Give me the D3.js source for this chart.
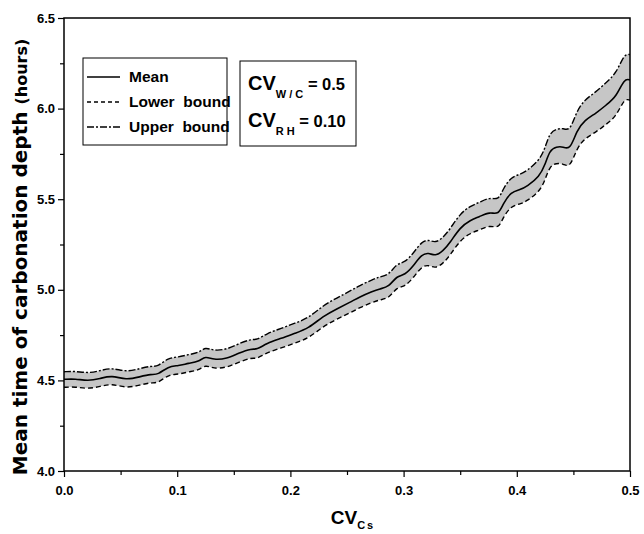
<!DOCTYPE html>
<html lang="en">
<head>
<meta charset="utf-8">
<title>Mean time of carbonation depth</title>
<script src="https://cdnjs.cloudflare.com/ajax/libs/d3/7.8.5/d3.min.js"></script>
<style>
  body { margin: 0; background: #fff; }
  .narrow { font-family: "Liberation Sans Narrow", "Arial Narrow", "Liberation Sans", Arial, sans-serif; font-weight: bold; font-stretch: condensed; }
</style>
</head>
<body>
<svg id="chart" width="644" height="534"></svg>
<script>
// CV of Cs (x)
const cvCs = [0.000, 0.010, 0.021, 0.032, 0.042, 0.055, 0.067, 0.077, 0.083, 0.092,
              0.101, 0.110, 0.119, 0.125, 0.132, 0.144, 0.154, 0.166, 0.170, 0.179,
              0.192, 0.204, 0.216, 0.229, 0.241, 0.253, 0.261, 0.272, 0.279, 0.287,
              0.294, 0.301, 0.309, 0.316, 0.322, 0.328, 0.335, 0.341, 0.350, 0.359,
              0.367, 0.376, 0.384, 0.388, 0.395, 0.403, 0.409, 0.420, 0.425, 0.429,
              0.435, 0.441, 0.447, 0.453, 0.460, 0.470, 0.479, 0.488, 0.495, 0.500];
const meanTime = [4.506, 4.509, 4.497, 4.510, 4.528, 4.502, 4.520, 4.535, 4.530, 4.578,
                  4.580, 4.595, 4.603, 4.635, 4.613, 4.620, 4.650, 4.677, 4.668, 4.705,
                  4.732, 4.760, 4.787, 4.855, 4.895, 4.932, 4.960, 4.990, 5.006, 5.015,
                  5.078, 5.080, 5.135, 5.195, 5.205, 5.185, 5.215, 5.260, 5.345, 5.385,
                  5.403, 5.431, 5.413, 5.477, 5.540, 5.552, 5.570, 5.625, 5.690, 5.770,
                  5.790, 5.790, 5.770, 5.880, 5.937, 5.974, 6.020, 6.066, 6.167, 6.158];
const lowerBound = [4.462, 4.465, 4.453, 4.466, 4.483, 4.457, 4.474, 4.489, 4.484, 4.532,
                    4.533, 4.548, 4.555, 4.587, 4.564, 4.571, 4.600, 4.627, 4.617, 4.653,
                    4.679, 4.706, 4.732, 4.799, 4.838, 4.874, 4.901, 4.930, 4.945, 4.953,
                    5.015, 5.016, 5.070, 5.129, 5.138, 5.117, 5.146, 5.190, 5.274, 5.313,
                    5.330, 5.357, 5.338, 5.401, 5.463, 5.473, 5.490, 5.542, 5.605, 5.682,
                    5.699, 5.696, 5.673, 5.781, 5.836, 5.870, 5.914, 5.958, 6.057, 6.046];
const upperBound = [4.548, 4.551, 4.540, 4.553, 4.571, 4.546, 4.565, 4.580, 4.576, 4.625,
                    4.628, 4.643, 4.652, 4.685, 4.663, 4.671, 4.702, 4.730, 4.721, 4.759,
                    4.787, 4.816, 4.844, 4.914, 4.955, 4.994, 5.023, 5.055, 5.072, 5.082,
                    5.146, 5.149, 5.205, 5.266, 5.277, 5.258, 5.289, 5.335, 5.421, 5.463,
                    5.482, 5.511, 5.494, 5.559, 5.623, 5.637, 5.657, 5.715, 5.782, 5.865,
                    5.888, 5.892, 5.875, 5.988, 6.049, 6.092, 6.144, 6.196, 6.303, 6.298];

const xTicks = [0.0, 0.1, 0.2, 0.3, 0.4, 0.5];
const xMinor = [0.05, 0.15, 0.25, 0.35, 0.45];
const yTicks = [4.0, 4.5, 5.0, 5.5, 6.0, 6.5];
const yMinor = [4.25, 4.75, 5.25, 5.75, 6.25];
const legendItems = [
  { label: "Mean", dash: null },
  { label: "Lower  bound", dash: "4,3" },
  { label: "Upper  bound", dash: "7,2,2,2" }
];

const width = 644, height = 534;
const margin = { top: 18, right: 14, bottom: 63, left: 64 };
const w = width - margin.left - margin.right;
const h = height - margin.top - margin.bottom;

const svg = d3.select("#chart");
const g = svg.append("g").attr("transform", `translate(${margin.left},${margin.top})`);

const x = d3.scaleLinear().domain([0, 0.5]).range([0, w]);
const y = d3.scaleLinear().domain([4.0, 6.5]).range([h, 0]);

const rows = cvCs.map((c, i) => ({ c, m: meanTime[i], lo: lowerBound[i], hi: upperBound[i] }));
const curve = d3.curveBasis;

// shaded band
g.append("path")
  .datum(rows)
  .attr("fill", "#c6c6c6")
  .attr("d", d3.area().curve(curve).x(d => x(d.c)).y0(d => y(d.lo)).y1(d => y(d.hi)));

const line = key => d3.line().curve(curve).x(d => x(d.c)).y(d => y(d[key]));
g.append("path").datum(rows).attr("fill", "none").attr("stroke", "#000")
  .attr("stroke-width", 1.4).attr("stroke-dasharray", "5,3").attr("d", line("lo"));
g.append("path").datum(rows).attr("fill", "none").attr("stroke", "#000")
  .attr("stroke-width", 1.4).attr("stroke-dasharray", "7,2,2,2").attr("d", line("hi"));
g.append("path").datum(rows).attr("fill", "none").attr("stroke", "#000")
  .attr("stroke-width", 1.6).attr("d", line("m"));

// frame
g.append("rect").attr("width", w).attr("height", h)
  .attr("fill", "none").attr("stroke", "#000").attr("stroke-width", 1.5);

// axes
g.append("g").attr("transform", `translate(0,${h})`)
  .call(d3.axisBottom(x).tickValues(xTicks).tickFormat(d3.format(".1f")).tickSize(6).tickPadding(9));
g.append("g").attr("transform", `translate(0,${h})`)
  .call(d3.axisBottom(x).tickValues(xMinor).tickFormat("").tickSize(4));
g.append("g")
  .call(d3.axisLeft(y).tickValues(yTicks).tickFormat(d3.format(".1f")).tickSize(6).tickPadding(3));
g.append("g").call(d3.axisLeft(y).tickValues(yMinor).tickFormat("").tickSize(4));

g.selectAll(".domain").remove();
g.selectAll(".tick line").attr("stroke", "#000").attr("stroke-width", 1.2);
g.selectAll(".tick text").attr("class", "narrow").attr("font-size", 13).attr("fill", "#000");

// x-axis title
const xt = svg.append("text").attr("class", "narrow").attr("x", margin.left + w / 2 + 6)
  .attr("y", 524).attr("text-anchor", "middle").attr("font-size", 19);
xt.append("tspan").text("CV");
xt.append("tspan").attr("font-size", 11).attr("dy", 5).attr("letter-spacing", 2).text("Cs");

// y-axis title
const yt = svg.append("text")
  .attr("transform", "translate(27,257) rotate(-90)")
  .attr("text-anchor", "middle")
  .attr("font-family", "'DejaVu Sans', Verdana, sans-serif").attr("font-weight", "bold")
  .attr("font-size", 20);
yt.append("tspan").text("Mean time of carbonation depth ");
yt.append("tspan").attr("font-size", 16).text("(hours)");

// legend
const lg = svg.append("g").attr("transform", "translate(83,58)");
lg.append("rect").attr("width", 144).attr("height", 87)
  .attr("fill", "#fff").attr("stroke", "#000").attr("stroke-width", 1);
legendItems.forEach((d, i) => {
  const yy = 19 + i * 25;
  lg.append("line").attr("x1", 4).attr("x2", 37).attr("y1", yy).attr("y2", yy)
    .attr("stroke", "#000").attr("stroke-width", 1.3).attr("stroke-dasharray", d.dash);
  lg.append("text").attr("class", "narrow").attr("x", 46).attr("y", yy + 5)
    .attr("font-size", 15.5).style("white-space", "pre").text(d.label);
});

// parameter box
const pb = svg.append("g").attr("transform", "translate(240,61)");
pb.append("rect").attr("width", 116).attr("height", 85)
  .attr("fill", "#fff").attr("stroke", "#000").attr("stroke-width", 1);
const params = [
  { sub: "W / C", val: "= 0.5", base: 29 },
  { sub: "R H", val: "= 0.10", base: 66 }
];
params.forEach(p => {
  const t = pb.append("text").attr("class", "narrow").attr("x", 8).attr("y", p.base)
    .attr("font-size", 20).style("white-space", "pre");
  t.append("tspan").text("CV");
  t.append("tspan").attr("font-size", 11).attr("dy", 8).text(p.sub);
  t.append("tspan").attr("dy", -8).attr("font-size", 16.5).text(" " + p.val);
});
</script>
</body>
</html>
